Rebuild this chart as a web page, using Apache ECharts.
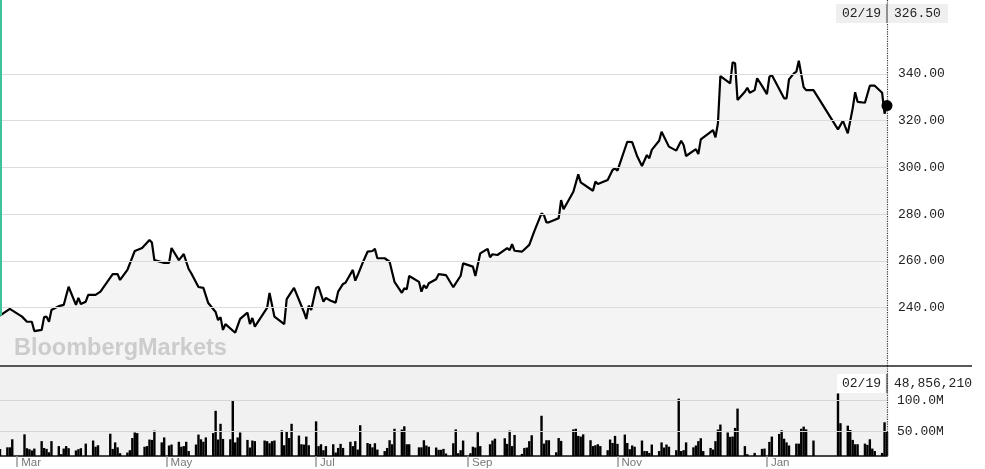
<!DOCTYPE html>
<html><head><meta charset="utf-8">
<script src="https://cdn.jsdelivr.net/npm/echarts@6/dist/echarts.min.js"></script>
<style>html,body{margin:0;padding:0;background:#fff}#c{width:985px;height:469px}</style>
</head><body><div id="c"></div>
<script>
// ---------- DATA ----------
const startDate = '2019-02-22';
const endDate = '2020-02-19';
const priceDates = [
'2019-02-22','2019-02-26','2019-03-03','2019-03-05','2019-03-07','2019-03-08','2019-03-11','2019-03-12','2019-03-13','2019-03-14',
'2019-03-15','2019-03-18','2019-03-20','2019-03-22','2019-03-25','2019-03-26','2019-03-27','2019-03-29','2019-03-30','2019-04-02',
'2019-04-04','2019-04-09','2019-04-11','2019-04-12','2019-04-15','2019-04-18','2019-04-21','2019-04-24','2019-04-25','2019-04-26',
'2019-04-30','2019-05-02','2019-05-03','2019-05-06','2019-05-08','2019-05-10','2019-05-11','2019-05-14','2019-05-16','2019-05-18',
'2019-05-21','2019-05-22','2019-05-23','2019-05-24','2019-05-25','2019-05-29','2019-05-31','2019-06-03','2019-06-04','2019-06-05',
'2019-06-06','2019-06-11','2019-06-12','2019-06-14','2019-06-18','2019-06-19','2019-06-22','2019-06-26','2019-06-27','2019-06-28',
'2019-06-29','2019-07-01','2019-07-02','2019-07-04','2019-07-05','2019-07-07','2019-07-09','2019-07-10','2019-07-12','2019-07-13',
'2019-07-16','2019-07-17','2019-07-18','2019-07-20','2019-07-22','2019-07-24','2019-07-25','2019-07-26','2019-07-29','2019-07-31',
'2019-08-02','2019-08-05','2019-08-06','2019-08-07','2019-08-08','2019-08-12','2019-08-13','2019-08-14','2019-08-15','2019-08-16',
'2019-08-19','2019-08-20','2019-08-23','2019-08-26','2019-08-29','2019-08-30','2019-09-03','2019-09-04','2019-09-06','2019-09-09',
'2019-09-10','2019-09-11','2019-09-13','2019-09-17','2019-09-18','2019-09-19','2019-09-20','2019-09-23','2019-09-26','2019-09-28',
'2019-10-01','2019-10-02','2019-10-03','2019-10-04','2019-10-08','2019-10-09','2019-10-10','2019-10-14','2019-10-16','2019-10-17',
'2019-10-22','2019-10-23','2019-10-24','2019-10-28','2019-10-30','2019-10-31','2019-11-01','2019-11-05','2019-11-07','2019-11-09',
'2019-11-11','2019-11-13','2019-11-14','2019-11-15','2019-11-18','2019-11-19','2019-11-22','2019-11-25','2019-11-27','2019-11-28',
'2019-11-29','2019-12-03','2019-12-04','2019-12-05','2019-12-10','2019-12-11','2019-12-12','2019-12-13','2019-12-17','2019-12-18',
'2019-12-19','2019-12-20','2019-12-23','2019-12-24','2019-12-25','2019-12-27','2019-12-28','2019-12-30','2020-01-01','2020-01-02',
'2020-01-03','2020-01-08','2020-01-09','2020-01-10','2020-01-12','2020-01-13','2020-01-14','2020-01-16','2020-01-17','2020-01-20',
'2020-01-30','2020-02-01','2020-02-03','2020-02-05','2020-02-06','2020-02-07','2020-02-10','2020-02-12','2020-02-14','2020-02-17',
'2020-02-18','2020-02-19'];
const prices = [
236.5,239.4,236.1,233.9,233.9,229.9,230.4,235.9,236.1,233.9,
238.9,240.6,241.1,248.9,241.1,244.1,241.5,242.5,245.4,245.4,
246.8,254.3,254.3,251.8,256.1,264.2,265.5,268.9,267.8,260.3,
259.1,259.1,265.5,260.3,262.9,256.5,254.8,248.8,248.4,241.9,
238.1,234.6,235.9,230.4,232.9,229.2,235.1,237.8,232.9,235.5,
231.8,239.8,246.2,236.1,232.9,243.6,248.4,238.2,235.1,240.8,
238.9,248.4,248.9,242.5,244.1,242.9,242.1,246.8,250.1,250.6,
256.1,251.5,253.9,259.1,263.9,264.2,265.1,261.1,261.1,259.6,
251.0,246.3,248.2,247.8,253.5,251.0,246.8,249.6,248.2,250.4,
252.1,254.3,253.9,248.7,253.6,258.9,257.5,253.5,263.2,265.1,
261.5,262.8,262.5,265.4,264.6,267.1,264.3,263.9,266.8,272.5,
280.3,279.6,276.5,276.5,278.2,286.0,282.1,289.6,297.0,293.6,
290.0,293.9,292.9,294.6,298.9,299.6,298.6,311.0,310.8,304.9,
300.6,305.3,303.9,307.5,311.4,315.3,308.9,307.2,311.4,309.6,
304.9,307.8,305.7,312.0,316.0,312.9,318.9,339.1,336.0,345.0,
344.6,328.9,332.4,334.1,332.0,333.1,338.2,334.9,331.4,338.8,
339.6,329.6,329.6,337.7,340.3,341.0,345.7,334.3,333.1,333.1,
316.3,320.0,314.6,325.3,332.2,328.1,327.7,335.0,335.0,332.0,
323.0,326.5];
const volumeDates = [
'2019-02-22','2019-02-25','2019-02-26','2019-02-27','2019-03-04','2019-03-05','2019-03-06','2019-03-07','2019-03-08','2019-03-11',
'2019-03-12','2019-03-13','2019-03-14','2019-03-15','2019-03-18','2019-03-19','2019-03-20','2019-03-21','2019-03-22','2019-03-25',
'2019-03-26','2019-03-27','2019-03-29','2019-04-01','2019-04-02','2019-04-03','2019-04-08','2019-04-09','2019-04-10','2019-04-11',
'2019-04-12','2019-04-15','2019-04-16','2019-04-17','2019-04-18','2019-04-19','2019-04-22','2019-04-23','2019-04-24','2019-04-25',
'2019-04-26','2019-04-29','2019-04-30','2019-05-02','2019-05-03','2019-05-06','2019-05-07','2019-05-08','2019-05-09','2019-05-10',
'2019-05-13','2019-05-14','2019-05-15','2019-05-16','2019-05-17','2019-05-20','2019-05-21','2019-05-22','2019-05-23','2019-05-24',
'2019-05-27','2019-05-28','2019-05-29','2019-05-30','2019-05-31','2019-06-03','2019-06-04','2019-06-05','2019-06-06','2019-06-10',
'2019-06-11','2019-06-12','2019-06-13','2019-06-14','2019-06-17','2019-06-18','2019-06-19','2019-06-20','2019-06-21','2019-06-24',
'2019-06-25','2019-06-26','2019-06-27','2019-06-28','2019-07-01','2019-07-02','2019-07-03','2019-07-04','2019-07-05','2019-07-08',
'2019-07-09','2019-07-10','2019-07-11','2019-07-12','2019-07-15','2019-07-16','2019-07-17','2019-07-18','2019-07-19','2019-07-22',
'2019-07-23','2019-07-24','2019-07-25','2019-07-26','2019-07-29','2019-07-30','2019-07-31','2019-08-01','2019-08-02','2019-08-05',
'2019-08-06','2019-08-07','2019-08-08','2019-08-12','2019-08-13','2019-08-14','2019-08-15','2019-08-16','2019-08-19','2019-08-20',
'2019-08-21','2019-08-22','2019-08-23','2019-08-26','2019-08-27','2019-08-28','2019-08-29','2019-08-30','2019-09-02','2019-09-03',
'2019-09-04','2019-09-05','2019-09-06','2019-09-10','2019-09-11','2019-09-12','2019-09-16','2019-09-17','2019-09-18','2019-09-19',
'2019-09-20','2019-09-23','2019-09-24','2019-09-25','2019-09-26','2019-09-27','2019-10-01','2019-10-02','2019-10-03','2019-10-04',
'2019-10-07','2019-10-08','2019-10-09','2019-10-14','2019-10-15','2019-10-16','2019-10-17','2019-10-18','2019-10-21','2019-10-22',
'2019-10-23','2019-10-24','2019-10-25','2019-10-28','2019-10-29','2019-10-30','2019-10-31','2019-11-01','2019-11-04','2019-11-05',
'2019-11-06','2019-11-07','2019-11-08','2019-11-11','2019-11-12','2019-11-13','2019-11-14','2019-11-15','2019-11-18','2019-11-19',
'2019-11-20','2019-11-21','2019-11-22','2019-11-25','2019-11-26','2019-11-27','2019-11-28','2019-11-29','2019-12-02','2019-12-03',
'2019-12-04','2019-12-05','2019-12-06','2019-12-09','2019-12-10','2019-12-11','2019-12-12','2019-12-13','2019-12-16','2019-12-17',
'2019-12-18','2019-12-19','2019-12-20','2019-12-23','2019-12-24','2019-12-27','2019-12-30','2019-12-31','2020-01-02','2020-01-03',
'2020-01-06','2020-01-07','2020-01-08','2020-01-09','2020-01-10','2020-01-13','2020-01-14','2020-01-15','2020-01-16','2020-01-17',
'2020-01-20','2020-01-30','2020-01-31','2020-02-03','2020-02-04','2020-02-05','2020-02-06','2020-02-07','2020-02-10','2020-02-11',
'2020-02-12','2020-02-13','2020-02-14','2020-02-17','2020-02-18','2020-02-19'];
const volumesM = [
21.5,24,24,37,45,22.6,21,19,22,34,
23,21.5,16,34,26,13,22,26,22.6,19,
21,22.6,30,35,25,27.4,46,21.5,32,24,
14.5,15.6,19.4,39,48,47,25,26,36.6,36,
51,32,40,27,28.5,33,25,26,33,18,
28.5,44.6,37,33,40,47,83,36.6,62,37.6,
37,99.5,32,40,48,36,23.7,35,34,35,
34,30.6,34,35,51.6,27.4,49.5,39,62,43,
29,28.5,41.4,27.4,66,26,29,19.4,26,29,
15.6,23,29.6,23,33,26,34,20.4,59.7,31,
29.6,24,30.6,20.4,18,23,35.5,29,54,52.7,
58,29,29,24,24,35.5,27,25,23.7,20,
20,21.5,14,30.6,53,14.5,19.4,35,14.5,25,
23.7,48.4,26,29,35,38,38.7,29.6,51,26,
44,13.4,23,23.7,34,43.5,75,30,35.5,35.5,
16,39,34.4,53,54,42.5,41.4,45,35.5,26,
27.4,29,26,19.4,36.6,31,42.5,29.6,44.6,31,
21,27,25,35,18,18,15,28.5,18,32,
23.7,28.5,25,19.4,102.7,18,19.4,32,24,27,
34,38.7,18,23,20.4,34,52.7,60.8,48,41,
41.4,55.4,86.6,26,13,15,21.5,22,32.8,41.4,
45.7,51.6,38,32,27,30,30,54,57.5,53,
35,111,63,59,52,36,29,29,30,28,
37,22,18,15,64.5,48.85621];
const monthTickDates = ['2019-03-01','2019-05-01','2019-07-01','2019-09-01','2019-11-01','2020-01-01'];
const monthTickLabels = ['Mar','May','Jul','Sep','Nov','Jan'];
const priceGridValues = [240,260,280,300,320,340];
const volumeGridValues = [50,100];
const watermarkText = 'BloombergMarkets';

// ---------- CHART ----------
function ts(s){const p=s.split('-').map(Number);return new Date(p[0],p[1]-1,p[2]).getTime();}
const X0 = ts(startDate), X1 = ts(endDate);
const PMIN = 214.95, PMAX = 371.7, VMIN = 10, VMAX = 155.4;
const monthTs = monthTickDates.map(ts);
const mono = '"Liberation Mono","DejaVu Sans Mono",monospace';
const sans = '"Liberation Sans",Arial,sans-serif';
const priceData = priceDates.map((d,i)=>[ts(d),prices[i]]);
const volData = volumeDates.map((d,i)=>[ts(d),volumesM[i]]);
const lastTs = ts(priceDates[priceDates.length-1]);
const lastPrice = prices[prices.length-1];
const lastVol = volumesM[volumesM.length-1];

const chart = echarts.init(document.getElementById('c'), null, {renderer:'canvas'});
const option = {
  animation:false,
  backgroundColor:'#ffffff',
  grid:[
    {left:0,right:98,top:0,bottom:103},
    {left:0,right:98,top:366,bottom:12,show:true,backgroundColor:'#f1f1f1',borderWidth:0}
  ],
  xAxis:[
    {type:'value',gridIndex:0,min:X0,max:X1,show:false,splitLine:{show:false}},
    {type:'value',gridIndex:1,min:X0,max:X1,
     axisLine:{show:true,onZero:false,lineStyle:{color:'#444',width:2}},
     axisTick:{show:true,customValues:monthTs,length:11,lineStyle:{color:'#9a9a9a',width:1.5}},
     axisLabel:{show:true,customValues:monthTs,
       formatter:function(v){const i=monthTs.indexOf(v);return i>=0?monthTickLabels[i]:'';},
       align:'left',padding:[0,0,0,4],margin:1,color:'#777',fontSize:11.5,fontFamily:sans},
     splitLine:{show:false}}
  ],
  yAxis:[
    {type:'value',gridIndex:0,min:PMIN,max:PMAX,show:false,splitLine:{show:false}},
    {type:'value',gridIndex:1,min:VMIN,max:VMAX,show:false,splitLine:{show:false}}
  ],
  series:[
    {type:'line',name:'price',xAxisIndex:0,yAxisIndex:0,data:priceData,showSymbol:false,
     lineStyle:{color:'#000',width:2.2},
     areaStyle:{color:'rgba(0,0,0,0.058)',origin:'start'},
     z:3,
     markLine:{silent:true,symbol:['none','none'],animation:false,
       data:[].concat(
         priceGridValues.map(v=>({yAxis:v,lineStyle:{color:'#dcdcdc',width:1,type:'solid'},
           label:{show:true,position:'end',distance:11,formatter:v.toFixed(2),color:'#222',fontSize:13,fontFamily:mono}})),
         [{xAxis:lastTs,lineStyle:{color:'#333',width:1.2,type:'dotted'},label:{show:false}}],
         [[{coord:[X0,PMAX]},{coord:[X0,prices[0]],lineStyle:{color:'#3cc39b',width:3,type:'solid'},label:{show:false}}]]
       )},
     markPoint:{symbol:'circle',symbolSize:11,itemStyle:{color:'#000'},label:{show:false},silent:true,
       data:[{coord:[lastTs,lastPrice]}]}
    },
    {type:'bar',name:'volume',xAxisIndex:1,yAxisIndex:1,data:volData,barWidth:2.4,
     itemStyle:{color:'#000'},z:3,
     markLine:{silent:true,symbol:['none','none'],animation:false,
       data:[].concat(
         volumeGridValues.map(v=>({yAxis:v,lineStyle:{color:'#d6d6d6',width:1,type:'solid'},
           label:{show:true,position:'end',distance:10,formatter:v.toPrecision(4)+'M',color:'#222',fontSize:13,fontFamily:mono}})),
         [{xAxis:lastTs,lineStyle:{color:'#333',width:1.2,type:'dotted'},label:{show:false}}]
       )}
    }
  ]
};
chart.setOption(option);

// annotation boxes and watermark, positioned from the axes
const px = chart.convertToPixel({xAxisIndex:0},lastTs);
const sepY = chart.convertToPixel({yAxisIndex:1},VMAX);
const dateTxt = priceDates[priceDates.length-1].slice(5).replace('-','/');
const volTxt = Math.round(lastVol*1e6).toLocaleString('en-US');
chart.setOption({graphic:[
  {type:'line',z:50,shape:{x1:0,y1:sepY,x2:972,y2:sepY},style:{stroke:'#222',lineWidth:1.5}},
  {type:'text',z:1,left:14,top:337,style:{text:watermarkText,font:'bold 23.5px '+sans,fill:'#d6d6d6'}},
  {type:'rect',z:60,shape:{x:px-51,y:4,width:112,height:19},style:{fill:'#efefef'}},
  {type:'line',z:61,shape:{x1:px,y1:4,x2:px,y2:23},style:{stroke:'#333',lineWidth:1}},
  {type:'text',z:62,x:px-6,y:14,style:{text:dateTxt,font:'13px '+mono,fill:'#222',align:'right',verticalAlign:'middle'}},
  {type:'text',z:62,x:px+7,y:14,style:{text:lastPrice.toFixed(2),font:'13px '+mono,fill:'#222',align:'left',verticalAlign:'middle'}},
  {type:'rect',z:60,shape:{x:px-50,y:374,width:48,height:19},style:{fill:'#ffffff'}},
  {type:'rect',z:60,shape:{x:px+2,y:374,width:89,height:19},style:{fill:'#ffffff'}},
  {type:'line',z:61,shape:{x1:px,y1:374,x2:px,y2:393},style:{stroke:'#333',lineWidth:1}},
  {type:'text',z:62,x:px-6,y:384,style:{text:dateTxt,font:'13px '+mono,fill:'#222',align:'right',verticalAlign:'middle'}},
  {type:'text',z:62,x:px+7,y:384,style:{text:volTxt,font:'13px '+mono,fill:'#222',align:'left',verticalAlign:'middle'}}
]});
</script>
</body></html>
